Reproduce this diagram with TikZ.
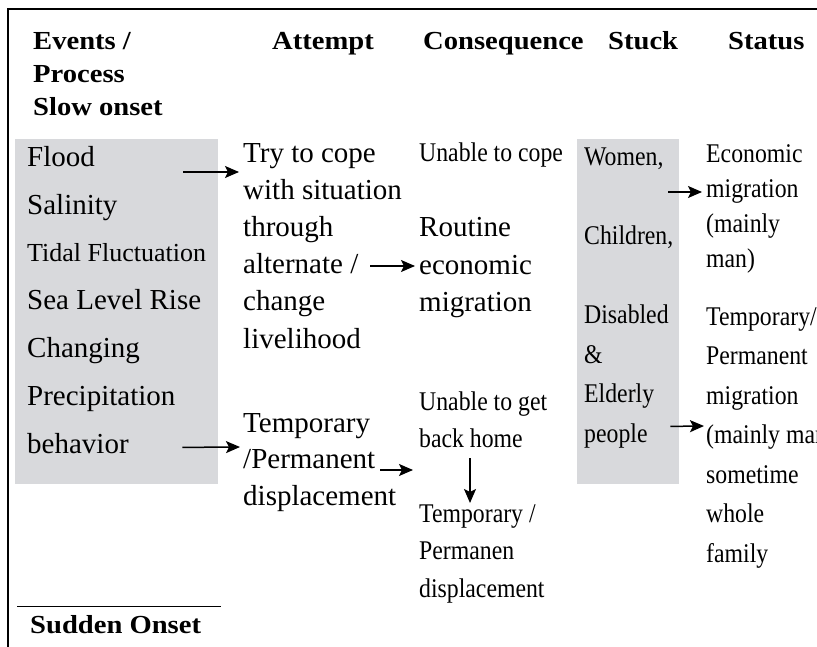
\documentclass[tikz,border=0pt]{standalone}
\usepackage{fontspec}
\setmainfont{Liberation Serif}
\newfontfamily\narrowfont[FakeStretch=0.88]{Liberation Serif}
\newfontfamily\headfont[FakeStretch=1.1]{Liberation Serif}
\usepackage{tikz}
\usetikzlibrary{arrows.meta,positioning,calc}
\definecolor{boxgray}{RGB}{216,217,220}

\tikzset{
  colhead/.style={anchor=base west, inner sep=0pt, align=left, font=\headfont\bfseries\fontsize{26}{33}\selectfont},
  entry/.style={anchor=base west, inner sep=0pt, align=left, font=\fontsize{29}{37.2}\selectfont},
  narrowentry/.style={anchor=base west, inner sep=0pt, align=left, font=\narrowfont\fontsize{27}{37}\selectfont},
  graybox/.style={fill=boxgray, draw=none, anchor=north west, inner sep=0pt},
  arr/.style={-{Stealth[length=14pt,width=12pt,inset=3pt]}, line width=1.5pt},
  framerule/.style={line width=2.4pt},
}

\begin{document}
\begin{tikzpicture}[x=1pt,y=-1pt]
  \useasboundingbox (0,0) rectangle (817,647);
  \draw[framerule] (8,647) -- (8,9) -- (817,9);

  \node[graybox, minimum width=203pt, minimum height=345pt] (slowbox) at (15,139) {};
  \node[graybox, minimum width=102pt, minimum height=345pt] (stuckbox) at (577,139) {};

  \node[colhead] (evhead) at (33,116) {Events /\\Process\\Slow onset};
  \node[colhead] (atthead) at (272,50) {Attempt};
  \node[colhead] (conshead) at (423,50) {Consequence};
  \node[colhead] (stuckhead) at (608,50) {Stuck};
  \node[colhead] (stathead) at (728,50) {Status};

  \node[entry, font=\fontsize{29}{47.8}\selectfont] (slowlist) at (27,453)
    {Flood\\Salinity\\{\fontsize{26}{47.8}\selectfont Tidal Fluctuation}\\Sea Level Rise\\Changing\\Precipitation\\behavior};

  \node[entry] (cope) at (243,348) {Try to cope\\with situation\\through\\alternate /\\change\\livelihood};
  \node[entry, font=\fontsize{29}{36.5}\selectfont] (displace) at (243,505) {Temporary\\/Permanent\\displacement};

  \node[narrowentry] (unable) at (419,162) {Unable to cope};
  \node[entry, font=\fontsize{29}{37.5}\selectfont] (routine) at (419,312) {Routine\\economic\\migration};
  \node[narrowentry] (gethome) at (419,447) {Unable to get\\back home};
  \node[narrowentry, font=\narrowfont\fontsize{27}{37.5}\selectfont] (tempperm) at (419,597) {Temporary /\\Permanen\\displacement};

  \node[narrowentry, font=\narrowfont\fontsize{27}{39.5}\selectfont] (stucklist) at (584,442)
    {Women,\\[39.5pt]Children,\\[39.5pt]Disabled\\\&\\Elderly\\people};

  \node[narrowentry, font=\narrowfont\fontsize{27}{35}\selectfont] (econmig) at (706,268) {Economic\\migration\\(mainly\\man)};
  \node[narrowentry, font=\narrowfont\fontsize{27}{39.5}\selectfont] (tempmig) at (706,562)
    {Temporary/\\Permanent\\migration\\(mainly man\\sometime\\whole\\family};

  \draw[line width=0.9pt] (17,606) -- (221,606);
  \node[colhead] (sudden) at (30,633) {Sudden Onset};

  \draw[arr] ([shift={(-35pt,-33pt)}]slowbox.north east) -- ([shift={(-4pt,176pt)}]cope.base west);
  \draw[arr] ([shift={(127pt,82pt)}]cope.base west) -- ([shift={(-4pt,46pt)}]routine.base west);
  \draw[arr] ([shift={(-36pt,37pt)}]slowbox.south east) -- ([shift={(-3pt,58pt)}]displace.base west);
  \draw[arr] ([shift={(137pt,35pt)}]displace.base west) -- ([shift={(-6pt,-23pt)}]gethome.base west);
  \draw[arr] ([shift={(51pt,-11pt)}]gethome.base west) -- ([shift={(51pt,94pt)}]tempperm.base west);
  \draw[arr] ([shift={(-11pt,-53pt)}]stuckbox.north east) -- ([shift={(-4pt,76pt)}]econmig.base west);
  \draw[arr] ([shift={(-9pt,58pt)}]stuckbox.south east) -- ([shift={(-2pt,136pt)}]tempmig.base west);
\end{tikzpicture}
\end{document}
